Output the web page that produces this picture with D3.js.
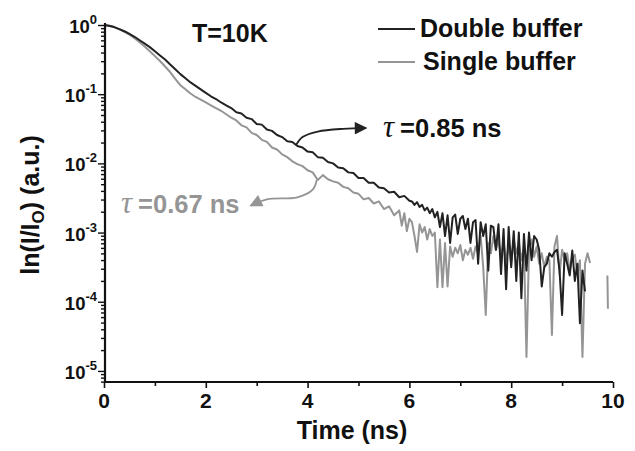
<!DOCTYPE html>
<html>
<head>
<meta charset="utf-8">
<script src="https://cdn.jsdelivr.net/npm/d3@7"></script>
<style>
  html, body { margin: 0; padding: 0; background: #ffffff; }
  svg { display: block; }
  text { font-family: "Liberation Sans", Arial, sans-serif; font-weight: bold; }
</style>
</head>
<body>
<svg id="chart" width="635" height="451"></svg>
<script>
// ---------------- DATA (log10 of normalised intensity I/I0) ----------------
const xTickValues = [0, 2, 4, 6, 8, 10];
const xMinorTickValues = [1, 3, 5, 7, 9];
const yTickExponents = [0, -1, -2, -3, -4, -5];

// Double buffer, smooth part: t = 0.0 ... 6.0 ns, every 0.1 ns
const doubleSmoothStart = 0, doubleSmoothStep = 0.1;
const doubleSmoothLog10 = [
  0.00,-0.01,-0.03,-0.06,-0.09,-0.13,-0.17,-0.22,-0.27,-0.32,
 -0.38,-0.44,-0.50,-0.57,-0.64,-0.71,-0.77,-0.83,-0.88,-0.93,
 -0.98,-1.03,-1.07,-1.12,-1.16,-1.20,-1.26,-1.28,-1.34,-1.36,
 -1.43,-1.44,-1.51,-1.53,-1.59,-1.62,-1.68,-1.69,-1.75,-1.77,
 -1.83,-1.84,-1.91,-1.92,-1.98,-2.00,-2.06,-2.07,-2.13,-2.14,
 -2.21,-2.21,-2.28,-2.28,-2.35,-2.36,-2.42,-2.41,-2.49,-2.47,
 -2.54
];
// Double buffer, noisy part: t = 6.05 ... 9.45 ns, every 0.05 ns
const doubleNoisyStart = 6.05, doubleNoisyStep = 0.05;
const doubleNoisyLog10 = [
 -2.55,-2.60,-2.56,-2.63,-2.60,-2.68,-2.64,-2.72,-2.66,-2.78,
 -2.70,-2.92,-2.72,-3.05,-2.75,-3.15,-2.78,-2.74,-3.02,-2.80,
 -2.76,-2.95,-2.80,-3.15,-2.85,-2.82,-3.45,-2.85,-3.05,-2.88,
 -3.55,-2.90,-2.92,-3.25,-2.88,-3.60,-2.95,-3.82,-2.92,-3.50,
 -2.98,-3.70,-3.00,-3.95,-3.02,-3.55,-3.00,-3.40,-3.05,-3.10,
 -3.25,-3.78,
 -3.50,-3.45,-3.30,-3.35,-3.28,-3.25,-3.55,-4.19,-3.30,-3.45,
 -3.62,-3.26,-3.70,-3.45,-4.31,-3.55,-3.85
];

// Single buffer, smooth part: t = 0.0 ... 5.8 ns, every 0.1 ns
const singleSmoothStart = 0, singleSmoothStep = 0.1;
const singleSmoothLog10 = [
  0.00,-0.01,-0.03,-0.06,-0.10,-0.14,-0.19,-0.25,-0.31,-0.38,
 -0.45,-0.52,-0.60,-0.68,-0.78,-0.87,-0.93,-0.99,-1.04,-1.08,
 -1.12,-1.16,-1.20,-1.24,-1.29,-1.34,-1.38,-1.45,-1.48,-1.56,
 -1.59,-1.66,-1.69,-1.77,-1.80,-1.87,-1.91,-1.97,-2.01,-2.04,
 -2.10,-2.13,-2.24,-2.17,-2.23,-2.26,-2.28,-2.34,-2.36,-2.42,
 -2.44,-2.52,-2.50,-2.58,-2.55,-2.66,-2.62,-2.75,-2.68
];
// Single buffer, noisy part: t = 5.85 ... 9.55 ns, every 0.05 ns
const singleNoisyStart = 5.85, singleNoisyStep = 0.05;
const singleNoisyLog10 = [
 -2.90,-2.72,-2.98,-2.80,-2.85,-3.05,-3.28,-2.88,-3.00,-2.92,-3.10,-2.95,-3.05,-3.00,
 -3.79,-3.10,-3.79,-3.15,-3.78,-3.20,-3.35,-3.22,-3.30,-3.18,-3.40,-3.25,-3.32,-3.22,-3.38,-3.20,-3.30,-3.05,-3.50,-4.19,
 -3.15,-3.30,-3.05,-3.25,-3.10,-3.35,-3.15,-3.40,-3.20,-3.45,-3.10,-3.30,-3.15,-3.40,-3.20,-4.80,-3.25,-3.10,-3.35,-3.20,
 -3.45,-3.30,-3.50,-3.35,-3.40,-4.48,-3.20,-3.05,-3.60,-3.25,-3.40,-3.30,-3.55,-3.38,-3.32,-3.60,-3.40,-4.80,-3.45,-3.30,-3.44
];
// Single buffer, isolated last fragment after a gap
const singleTailTimes = [9.89, 9.90];
const singleTailLog10 = [-3.62, -4.10];

const seriesNames = ["Double buffer", "Single buffer"];
const tauLabels = ["0.85 ns", "0.67 ns"];

// ---------------- BUILD ----------------
function pts(start, step, arr) {
  return arr.map((v, i) => ({ t: +(start + step * i).toFixed(3), v: Math.pow(10, v) }));
}
const doubleData = pts(doubleSmoothStart, doubleSmoothStep, doubleSmoothLog10)
  .concat(pts(doubleNoisyStart, doubleNoisyStep, doubleNoisyLog10));
const singleData = pts(singleSmoothStart, singleSmoothStep, singleSmoothLog10)
  .concat(pts(singleNoisyStart, singleNoisyStep, singleNoisyLog10))
  .concat([{ t: 9.7, v: null }])
  .concat(singleTailTimes.map((t, i) => ({ t, v: Math.pow(10, singleTailLog10[i]) })));

const svg = d3.select("#chart");
const x = d3.scaleLinear().domain([0, 10]).range([104, 613]);
const y = d3.scaleLog().domain([Math.pow(10, -5.16), 1]).range([382, 25]);

const darkCol = "#222222", grayCol = "#959595";

// Curves
const line = d3.line().defined(d => d.v != null).x(d => x(d.t)).y(d => y(d.v));
svg.append("path").datum(singleData).attr("d", line)
  .attr("fill", "none").attr("stroke", grayCol).attr("stroke-width", 2).attr("stroke-linejoin", "round");
svg.append("path").datum(doubleData).attr("d", line)
  .attr("fill", "none").attr("stroke", darkCol).attr("stroke-width", 2).attr("stroke-linejoin", "round");

// Y axis ticks
const yMajor = yTickExponents.map(e => Math.pow(10, e));
const yMinor = [];
yTickExponents.forEach(e => { for (let k = 2; k <= 9; k++) { const v = k * Math.pow(10, e - 1); if (v >= y.domain()[0]) yMinor.push(v); } });
const yAxisG = svg.append("g").attr("transform", "translate(105,0)");
yAxisG.call(d3.axisLeft(y).tickValues(yMinor).tickSize(4).tickFormat(""))
  .call(g => g.select(".domain").remove());
yAxisG.append("g").call(d3.axisLeft(y).tickValues(yMajor).tickSize(7).tickFormat(""))
  .call(g => g.select(".domain").remove());
yAxisG.selectAll(".tick line").attr("stroke", "#111").attr("stroke-width", 1.4);

// X axis ticks
const xAxisG = svg.append("g").attr("transform", "translate(0,382)");
xAxisG.call(d3.axisBottom(x).tickValues(xTickValues).tickSize(6).tickFormat(""))
  .call(g => g.select(".domain").remove());
xAxisG.append("g").call(d3.axisBottom(x).tickValues(xMinorTickValues).tickSize(4).tickFormat(""))
  .call(g => g.select(".domain").remove());
xAxisG.selectAll(".tick line").attr("stroke", "#111").attr("stroke-width", 1.6);

// Axis lines
svg.append("line").attr("x1", 105).attr("x2", 105).attr("y1", y(1) - 2).attr("y2", 383)
  .attr("stroke", "#111").attr("stroke-width", 2.2);
svg.append("line").attr("x1", 104).attr("x2", x(10)).attr("y1", 382).attr("y2", 382)
  .attr("stroke", "#111").attr("stroke-width", 2.2);

// X tick labels
svg.selectAll(".xlab").data(xTickValues).enter().append("text")
  .attr("x", d => x(d)).attr("y", 408).attr("text-anchor", "middle")
  .attr("font-size", 21).attr("fill", "#111").text(d => d);

// Y tick labels (10^n)
yTickExponents.forEach(e => {
  const t = svg.append("text").attr("x", 97).attr("y", y(Math.pow(10, e)) + 8)
    .attr("text-anchor", "end").attr("fill", "#111").attr("font-size", 18.5);
  t.append("tspan").text("10");
  t.append("tspan").attr("dy", -9).attr("font-size", 13).text(String(e));
});

// Axis titles
svg.append("text").attr("x", 352).attr("y", 439).attr("text-anchor", "middle")
  .attr("font-size", 25).attr("fill", "#111").text("Time (ns)");
const yt = svg.append("text").attr("transform", "translate(39,205) rotate(-90)")
  .attr("text-anchor", "middle").attr("font-size", 25).attr("fill", "#111");
yt.append("tspan").text("ln(I/I");
yt.append("tspan").attr("font-size", 17).attr("dy", 5).text("O");
yt.append("tspan").attr("dy", -5).text(") (a.u.)");

// Temperature label
svg.append("text").attr("x", 192).attr("y", 42).attr("font-size", 25).attr("fill", "#111").text("T=10K");

// Legend
const legY = [29, 62];
const legCols = [darkCol, grayCol];
seriesNames.forEach((n, i) => {
  svg.append("line").attr("x1", 378).attr("x2", 415).attr("y1", legY[i]).attr("y2", legY[i])
    .attr("stroke", legCols[i]).attr("stroke-width", 2.2);
  svg.append("text").attr("x", i === 0 ? 420 : 423).attr("y", legY[i] + 8)
    .attr("font-size", 25).attr("fill", "#111").text(n);
});

// Arrow markers
const defs = svg.append("defs");
[["ahDark", darkCol], ["ahGray", grayCol]].forEach(([id, c]) => {
  defs.append("marker").attr("id", id).attr("viewBox", "0 0 10 10").attr("refX", 9).attr("refY", 5)
    .attr("markerWidth", 9).attr("markerHeight", 7).attr("markerUnits", "strokeWidth").attr("orient", "auto")
    .append("path").attr("d", "M0,0 L10,5 L0,10 Z").attr("fill", c);
});
const curve = d3.line().x(d => x(d[0])).y(d => y(Math.pow(10, d[1]))).curve(d3.curveCatmullRom);
// Double buffer annotation arrow (data coordinates: [t, log10 I])
svg.append("path").datum([[3.77, -1.74], [3.9, -1.62], [4.2, -1.54], [4.7, -1.50], [5.15, -1.49]])
  .attr("d", curve).attr("fill", "none").attr("stroke", darkCol).attr("stroke-width", 1.8)
  .attr("marker-end", "url(#ahDark)");
// Single buffer annotation arrow
svg.append("path").datum([[4.18, -2.24], [4.10, -2.38], [3.80, -2.49], [3.20, -2.52], [2.88, -2.61]])
  .attr("d", curve).attr("fill", "none").attr("stroke", grayCol).attr("stroke-width", 1.8)
  .attr("marker-end", "url(#ahGray)");

// Tau labels
function tauLabel(xp, yp, col, val) {
  const t = svg.append("text").attr("x", xp).attr("y", yp).attr("fill", col).attr("font-size", 25.5);
  t.append("tspan").attr("font-family", "'Liberation Serif', 'Times New Roman', serif")
    .attr("font-style", "italic").attr("font-weight", "normal").attr("font-size", 31).text("τ");
  t.append("tspan").attr("dx", 6).text("=" + val);
}
tauLabel(383, 137, "#111", tauLabels[0]);
tauLabel(121, 213, grayCol, tauLabels[1]);
</script>
</body>
</html>
